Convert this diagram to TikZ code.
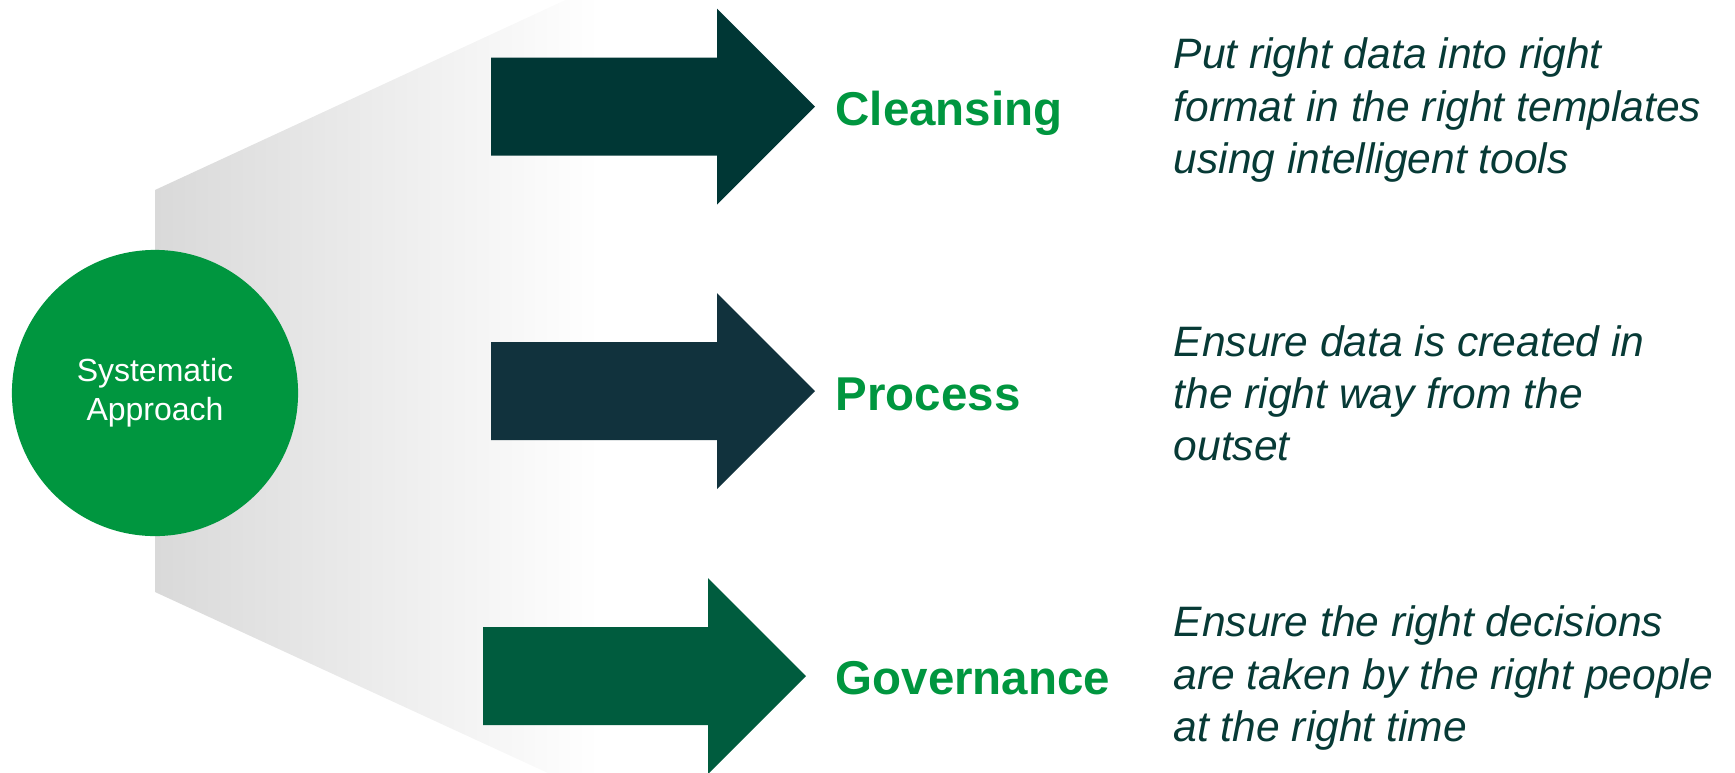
\documentclass[tikz,border=0pt]{standalone}
\usepackage{fontspec}
\setmainfont{Liberation Sans}
\usetikzlibrary{positioning}

\definecolor{coregreen}{HTML}{00963F}
\definecolor{fangray}{HTML}{D9D9D9}
\definecolor{cleansecol}{HTML}{003735}
\definecolor{processcol}{HTML}{11323D}
\definecolor{govcol}{HTML}{005C3E}
\definecolor{notecol}{HTML}{073A36}

% grey fading to white by x=600 of a path running from x=155 to x=1800
\pgfdeclarehorizontalshading{fanshade}{100bp}{color(0bp)=(fangray); color(25bp)=(fangray); color(38.5bp)=(white); color(100bp)=(white)}

\begin{document}
\begin{tikzpicture}[
    x=0.01cm, y=-0.01cm,
    core/.style={circle, fill=coregreen, minimum size=2.86cm, inner sep=0pt, text=white, align=center, font=\fontsize{9.1}{11}\selectfont},
    pillar/.style={text=coregreen, inner sep=0pt, anchor=base west, font=\fontsize{13.5}{16}\selectfont\bfseries},
    note/.style={text=notecol, inner sep=0pt, anchor=west, align=left, font=\fontsize{12.1}{14.8}\selectfont\itshape},
    fan/.style={shading=fanshade, draw=none}
]

\useasboundingbox (0,0) rectangle (1735,772);
\clip (0,0) rectangle (1735,772);

% Grey fan behind the circle
\shade[fan] (155,190) -- (600,-16) -- (1800,-16) -- (1800,797) -- (600,797) -- (155,592) -- cycle;

% Centre circle
\node[core] (approach) at (155,393) {Systematic\\Approach};

% Arrows
\coordinate (tipC) at (815,106.5);
\coordinate (tipP) at (815,391);
\coordinate (tipG) at (806,676);
\fill[cleansecol] (491,57.5) -- (717,57.5) -- (717,8.5) -- (tipC) -- (717,204.5) -- (717,155.5) -- (491,155.5) -- cycle;
\fill[processcol] (491,342) -- (717,342) -- (717,293) -- (tipP) -- (717,489) -- (717,440) -- (491,440) -- cycle;
\fill[govcol] (483,627) -- (708,627) -- (708,578) -- (tipG) -- (708,774) -- (708,725) -- (483,725) -- cycle;

% Labels
\node[pillar] (cleansing) at (835,125) {Cleansing};
\node[pillar] (process) at (835,410) {Process};
\node[pillar] (governance) at (835,694) {Governance};

% Descriptions
\node[note] (cleansingnote) at (1173,110) {Put right data into right\\format in the right templates\\using intelligent tools};
\node[note] (processnote) at (1173,393) {Ensure data is created in\\the right way from the\\outset};
\node[note] (governancenote) at (1173,678) {Ensure the right decisions\\are taken by the right people\\at the right time};

\end{tikzpicture}
\end{document}
